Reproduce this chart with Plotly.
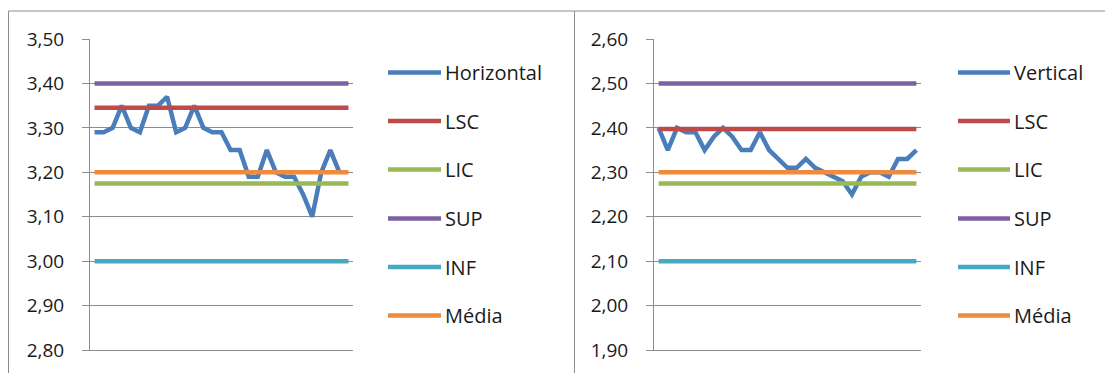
import plotly.graph_objects as go

# ---- data ----
samples = list(range(1, 30))
horizontal = [3.29, 3.29, 3.30, 3.35, 3.30, 3.29, 3.35, 3.35, 3.37, 3.29,
              3.30, 3.35, 3.30, 3.29, 3.29, 3.25, 3.25, 3.19, 3.19, 3.25,
              3.20, 3.19, 3.19, 3.15, 3.10, 3.20, 3.25, 3.20]
vertical = [2.40, 2.35, 2.40, 2.39, 2.39, 2.35, 2.38, 2.40, 2.38, 2.35,
            2.35, 2.39, 2.35, 2.33, 2.31, 2.31, 2.33, 2.31, 2.30, 2.29,
            2.28, 2.25, 2.29, 2.30, 2.30, 2.29, 2.33, 2.33, 2.35]
limit_names = ["LSC", "LIC", "SUP", "INF", "Média"]
left_limits = [3.345, 3.175, 3.40, 3.00, 3.20]
right_limits = [2.3975, 2.275, 2.50, 2.10, 2.30]
left_ticks = [2.80, 2.90, 3.00, 3.10, 3.20, 3.30, 3.40, 3.50]
right_ticks = [1.90, 2.00, 2.10, 2.20, 2.30, 2.40, 2.50, 2.60]

# ---- styling ----
W, H = 1105, 373
series_color = "#4a7ebb"
limit_colors = ["#be4b48", "#98b954", "#7d60a0", "#46aac5", "#f08a3c"]
grid = "#8c8c8c"
font_family = "Open Sans"
fs = 19
legend_fs = 20

fig = go.Figure()

def add_chart(main_name, main_vals, limits, xa, ya):
    fig.add_trace(go.Scatter(x=samples[:len(main_vals)], y=main_vals, mode="lines",
                             name=main_name, line=dict(color=series_color, width=4.5),
                             xaxis=xa, yaxis=ya, showlegend=False))
    for nm, v, c in zip(limit_names, limits, limit_colors):
        fig.add_trace(go.Scatter(x=samples, y=[v] * len(samples), mode="lines",
                                 name=nm, line=dict(color=c, width=4.5),
                                 xaxis=xa, yaxis=ya, showlegend=False))

add_chart("Horizontal", horizontal, left_limits, "x", "y")
add_chart("Vertical", vertical, right_limits, "x2", "y2")

y_dom = [(H - 350) / H, (H - 39) / H]
xcommon = dict(range=[0.5, 29.5], showgrid=False, showticklabels=False, ticks="",
               showline=True, linecolor=grid, linewidth=1, zeroline=False,
               fixedrange=True, automargin=False)
ycommon = dict(showgrid=True, gridcolor=grid, gridwidth=1, showline=True, linecolor=grid,
               linewidth=1, ticks="outside", ticklen=7, tickcolor=grid, tickwidth=1,
               tickformat=".2f", zeroline=False, ticklabelstandoff=14, automargin=False,
               tickfont=dict(family=font_family, size=fs, color="#1a1a1a"))

fig.update_layout(
    template="none",
    width=W, height=H, margin=dict(l=0, r=0, t=0, b=0, pad=0, autoexpand=False),
    paper_bgcolor="white", plot_bgcolor="white", separators=",.",
    showlegend=False,
    xaxis=dict(domain=[90 / W, 353 / W], anchor="y", **xcommon),
    xaxis2=dict(domain=[654 / W, 921 / W], anchor="y2", **xcommon),
    yaxis=dict(domain=y_dom, anchor="x", range=[left_ticks[0], left_ticks[-1]],
               tickvals=left_ticks, **ycommon),
    yaxis2=dict(domain=y_dom, anchor="x2", range=[right_ticks[0], right_ticks[-1]],
                tickvals=right_ticks, **ycommon),
)

shapes = []
annotations = []
# chart borders
shapes.append(dict(type="rect", xref="paper", yref="paper", x0=8.5 / W, x1=574.5 / W,
                   y0=-0.05, y1=1 - 11 / H, line=dict(color=grid, width=1)))
shapes.append(dict(type="rect", xref="paper", yref="paper", x0=574.5 / W, x1=1.05,
                   y0=-0.05, y1=1 - 11 / H, line=dict(color=grid, width=1)))

# legends
legend_y = [72.5, 121, 169.5, 218.5, 267, 315.5]
for (lx0, lx1, tx, names) in [(388, 441, 443, ["Horizontal"] + limit_names),
                              (958, 1010, 1012, ["Vertical"] + limit_names)]:
    for nm, c, py in zip(names, [series_color] + limit_colors, legend_y):
        yp = 1 - py / H
        shapes.append(dict(type="line", xref="paper", yref="paper", x0=lx0 / W, x1=lx1 / W,
                           y0=yp, y1=yp, line=dict(color=c, width=4.5)))
        annotations.append(dict(xref="paper", yref="paper", x=tx / W, y=yp, text=nm,
                                showarrow=False, xanchor="left", yanchor="middle",
                                font=dict(family=font_family, size=legend_fs, color="#1a1a1a")))

fig.update_layout(shapes=shapes, annotations=annotations)
fig.write_html("out.html")
